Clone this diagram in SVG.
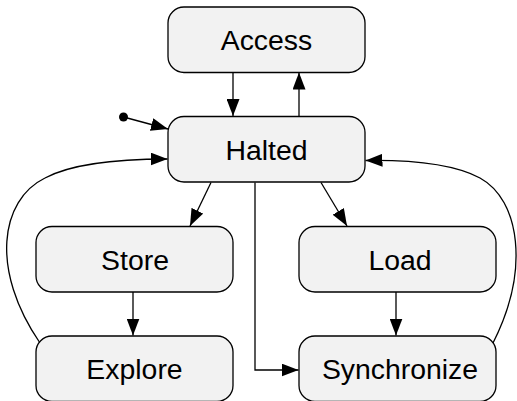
<svg xmlns="http://www.w3.org/2000/svg" width="517" height="401" viewBox="0 0 517 401">
  <style>
    .state rect { fill: #f2f2f2; stroke: #000; stroke-width: 1.3; }
    .state text { font-family: "Liberation Sans", Arial, sans-serif; font-size: 28.4px; text-anchor: middle; fill: #000; }
    .edge { fill: none; stroke: #000; stroke-width: 1.3; marker-end: url(#arrow); }
  </style>
  <defs>
    <marker id="arrow" markerUnits="userSpaceOnUse" markerWidth="18" markerHeight="13" refX="17" refY="6.5" orient="auto">
      <path d="M0,0 L17,6.5 L0,13 z" fill="#000"/>
    </marker>
  </defs>

  <rect width="517" height="401" fill="#fff"/>

  <!-- connectors -->
  <g id="connectors">
    <circle cx="123.5" cy="117" r="4.5" fill="#000"/>
    <path class="edge" d="M123.5,117 L168,129"/>
    <path class="edge" d="M233,72.5 L233,116"/>
    <path class="edge" d="M299,116 L299,72.5"/>
    <path class="edge" d="M211,182.5 L190,226"/>
    <path class="edge" d="M321,182.5 L347,226"/>
    <path class="edge" d="M133,292 L133,335.5"/>
    <path class="edge" d="M396,292 L396,335.5"/>
    <path class="edge" d="M255,182.5 L255,370 L298.5,370"/>
    <path class="edge" d="M40,343 C -10,270 0,200 45,178 C 75,162 130,159 167.5,159"/>
    <path class="edge" d="M493,343 C 530,270 520,200 480,178 C 450,162 400,160 365.5,160.5"/>
  </g>

  <g id="access" class="state">
    <rect x="168" y="7" width="197" height="65.5" rx="16"/>
    <text x="266.5" y="50">Access</text>
  </g>
  <g id="halted" class="state">
    <rect x="168" y="116.5" width="197" height="65.5" rx="16"/>
    <text x="266.5" y="159.5">Halted</text>
  </g>
  <g id="store" class="state">
    <rect x="36" y="226.5" width="197" height="65.5" rx="16"/>
    <text x="135" y="269.5">Store</text>
  </g>
  <g id="load" class="state">
    <rect x="299" y="226.5" width="197" height="65.5" rx="16"/>
    <text x="400" y="269.5">Load</text>
  </g>
  <g id="explore" class="state">
    <rect x="36" y="336" width="197" height="65.5" rx="16"/>
    <text x="134.5" y="379">Explore</text>
  </g>
  <g id="synchronize" class="state">
    <rect x="299" y="336" width="197" height="65.5" rx="16"/>
    <text x="400" y="379">Synchronize</text>
  </g>
</svg>
